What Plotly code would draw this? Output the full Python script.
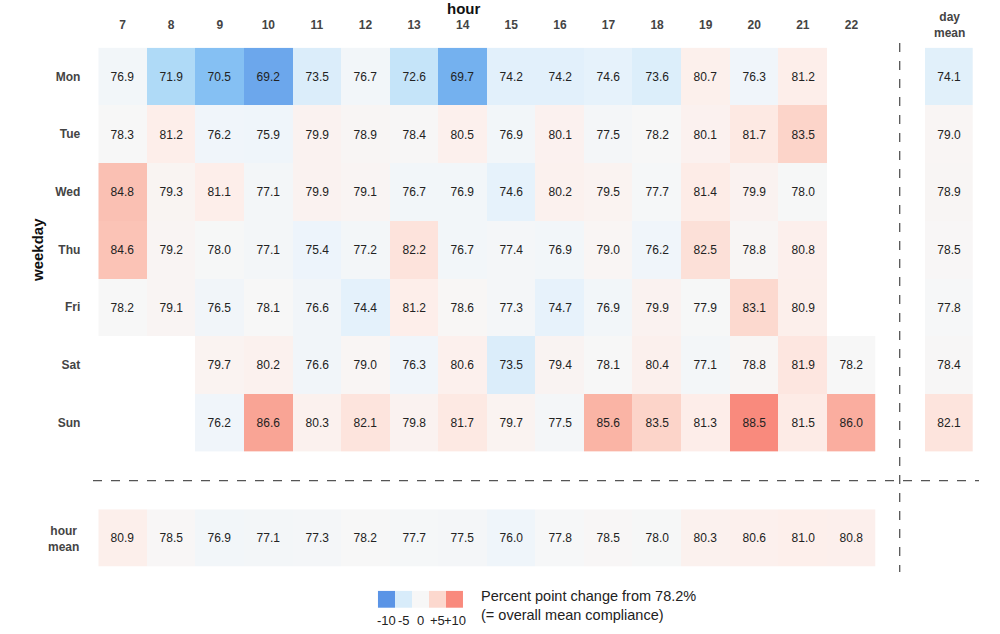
import plotly.graph_objects as go

hours = list(range(7, 23))
weekdays = ["Mon", "Tue", "Wed", "Thu", "Fri", "Sat", "Sun"]
N = None
mon = [76.9, 71.9, 70.5, 69.2, 73.5, 76.7, 72.6, 69.7, 74.2, 74.2, 74.6, 73.6, 80.7, 76.3, 81.2, N]
tue = [78.3, 81.2, 76.2, 75.9, 79.9, 78.9, 78.4, 80.5, 76.9, 80.1, 77.5, 78.2, 80.1, 81.7, 83.5, N]
wed = [84.8, 79.3, 81.1, 77.1, 79.9, 79.1, 76.7, 76.9, 74.6, 80.2, 79.5, 77.7, 81.4, 79.9, 78.0, N]
thu = [84.6, 79.2, 78.0, 77.1, 75.4, 77.2, 82.2, 76.7, 77.4, 76.9, 79.0, 76.2, 82.5, 78.8, 80.8, N]
fri = [78.2, 79.1, 76.5, 78.1, 76.6, 74.4, 81.2, 78.6, 77.3, 74.7, 76.9, 79.9, 77.9, 83.1, 80.9, N]
sat = [N, N, 79.7, 80.2, 76.6, 79.0, 76.3, 80.6, 73.5, 79.4, 78.1, 80.4, 77.1, 78.8, 81.9, 78.2]
sun = [N, N, 76.2, 86.6, 80.3, 82.1, 79.8, 81.7, 79.7, 77.5, 85.6, 83.5, 81.3, 88.5, 81.5, 86.0]
day_mean = [74.1, 79.0, 78.9, 78.5, 77.8, 78.4, 82.1]
hour_mean = [80.9, 78.5, 76.9, 77.1, 77.3, 78.2, 77.7, 77.5, 76.0, 77.8, 78.5, 78.0, 80.3, 80.6, 81.0, 80.8]
overall_mean = 78.2
legend_steps = [-10, -5, 0, 5, 10]
legend_labels = ["-10", "-5", "0", "+5", "+10"]

grid = [mon, tue, wed, thu, fri, sat, sun]

def dev(v):
    return None if v is None else v - overall_mean

def fmt(v):
    return "" if v is None else f"{v:.1f}"

cscale = [
    [0.0, "#5a94e6"],
    [0.1, "#7dbaf2"],
    [0.15, "#98cff6"],
    [0.2, "#b9dff8"],
    [0.25, "#d8ecfa"],
    [0.35, "#ecf4fb"],
    [0.5, "#f7f7f7"],
    [0.65, "#fdeeea"],
    [0.75, "#fcd8ce"],
    [0.85, "#fabaac"],
    [0.95, "#f99a8b"],
    [1.0, "#f98a7d"],
]

W, H = 1000, 634
def px(x):
    return x / W
def py(y):
    return 1 - y / H

FAM = "Liberation Sans, Arial, sans-serif"
cell_font = dict(family=FAM, size=12, color="#222")
lab_font = dict(family=FAM, size=12, color="#444", weight="bold")

fig = go.Figure()
common = dict(colorscale=cscale, zmin=-10, zmax=10, showscale=False, hoverinfo="skip",
              texttemplate="%{text}", textfont=cell_font, xgap=0, ygap=0)

fig.add_trace(go.Heatmap(
    x=hours, y=weekdays,
    z=[[dev(v) for v in row] for row in grid],
    text=[[fmt(v) for v in row] for row in grid],
    xaxis="x", yaxis="y", **common))

fig.add_trace(go.Heatmap(
    x=["day mean"], y=weekdays,
    z=[[dev(v)] for v in day_mean],
    text=[[fmt(v)] for v in day_mean],
    xaxis="x2", yaxis="y2", **common))

fig.add_trace(go.Heatmap(
    x=hours, y=["hour mean"],
    z=[[dev(v) for v in hour_mean]],
    text=[[fmt(v) for v in hour_mean]],
    xaxis="x3", yaxis="y3", **common))

fig.add_trace(go.Heatmap(
    x=legend_steps, y=[0],
    z=[legend_steps],
    xaxis="x4", yaxis="y4", colorscale=cscale, zmin=-10, zmax=10,
    showscale=False, hoverinfo="skip"))

x_dom = [px(98.3), px(875.7)]
y_dom = [py(451.5), py(47.7)]
hid = dict(showgrid=False, zeroline=False, showticklabels=False, ticks="", showline=False)

fig.update_layout(
    width=W, height=H,
    margin=dict(l=0, r=0, t=0, b=0, autoexpand=False),
    paper_bgcolor="white", plot_bgcolor="white",
    xaxis=dict(domain=x_dom, anchor="y", side="top", tickmode="array",
               tickvals=hours, ticktext=[str(h) for h in hours], tickfont=lab_font,
               showgrid=False, zeroline=False, ticks="", range=[6.5, 22.5],
               ticklabelstandoff=15, automargin=False),
    yaxis=dict(domain=y_dom, anchor="x", autorange="reversed", tickfont=lab_font,
               showgrid=False, zeroline=False, ticks="", ticklabelstandoff=17,
               automargin=False),
    xaxis2=dict(domain=[px(925), px(972.7)], anchor="y2", **hid),
    yaxis2=dict(domain=y_dom, anchor="x2", autorange="reversed", **hid),
    xaxis3=dict(domain=x_dom, anchor="y3", range=[6.5, 22.5], **hid),
    yaxis3=dict(domain=[py(566.7), py(509.3)], anchor="x3", **hid),
    xaxis4=dict(domain=[px(375), px(467.7)], anchor="y4", **hid),
    yaxis4=dict(domain=[py(608), py(590.7)], anchor="x4", **hid),
)

fig.add_shape(type="line", xref="paper", yref="paper", x0=px(899.7), x1=px(899.7),
              y0=py(43), y1=py(572), line=dict(color="#555", width=1.3, dash="dash"))
fig.add_shape(type="line", xref="paper", yref="paper", x0=px(93), x1=px(979),
              y0=py(480.7), y1=py(480.7), line=dict(color="#555", width=1.3, dash="dash"))

mid = dict(xref="paper", yref="paper", xanchor="center", yanchor="middle", showarrow=False)
ann = []
ann.append(dict(text="hour", x=px(463), y=py(8),
                font=dict(family=FAM, size=15, color="#111", weight="bold"), **mid))
ann.append(dict(text="weekday", x=px(37), y=py(250), textangle=-90,
                font=dict(family=FAM, size=15, color="#111", weight="bold"), **mid))
ann.append(dict(text="day<br>mean", x=px(949), y=py(25), font=lab_font, **mid))
ann.append(dict(text="hour<br>mean", x=px(63), y=py(539), font=lab_font, **mid))
ann.append(dict(text="Percent point change from 78.2%<br>(= overall mean compliance)",
                x=px(479), y=py(605), xref="paper", yref="paper", xanchor="left",
                yanchor="middle", align="left", showarrow=False,
                font=dict(family=FAM, size=14.5, color="#222")))
for val, lab in zip(legend_steps, legend_labels):
    ann.append(dict(text=lab, x=val, y=py(611), xref="x4", yref="paper", yanchor="top",
                    xanchor="center", showarrow=False,
                    font=dict(family=FAM, size=13, color="#222")))
fig.update_layout(annotations=ann)

fig.write_html("out.html", config={"displayModeBar": False},
               post_script="document.body.style.margin='0';")
